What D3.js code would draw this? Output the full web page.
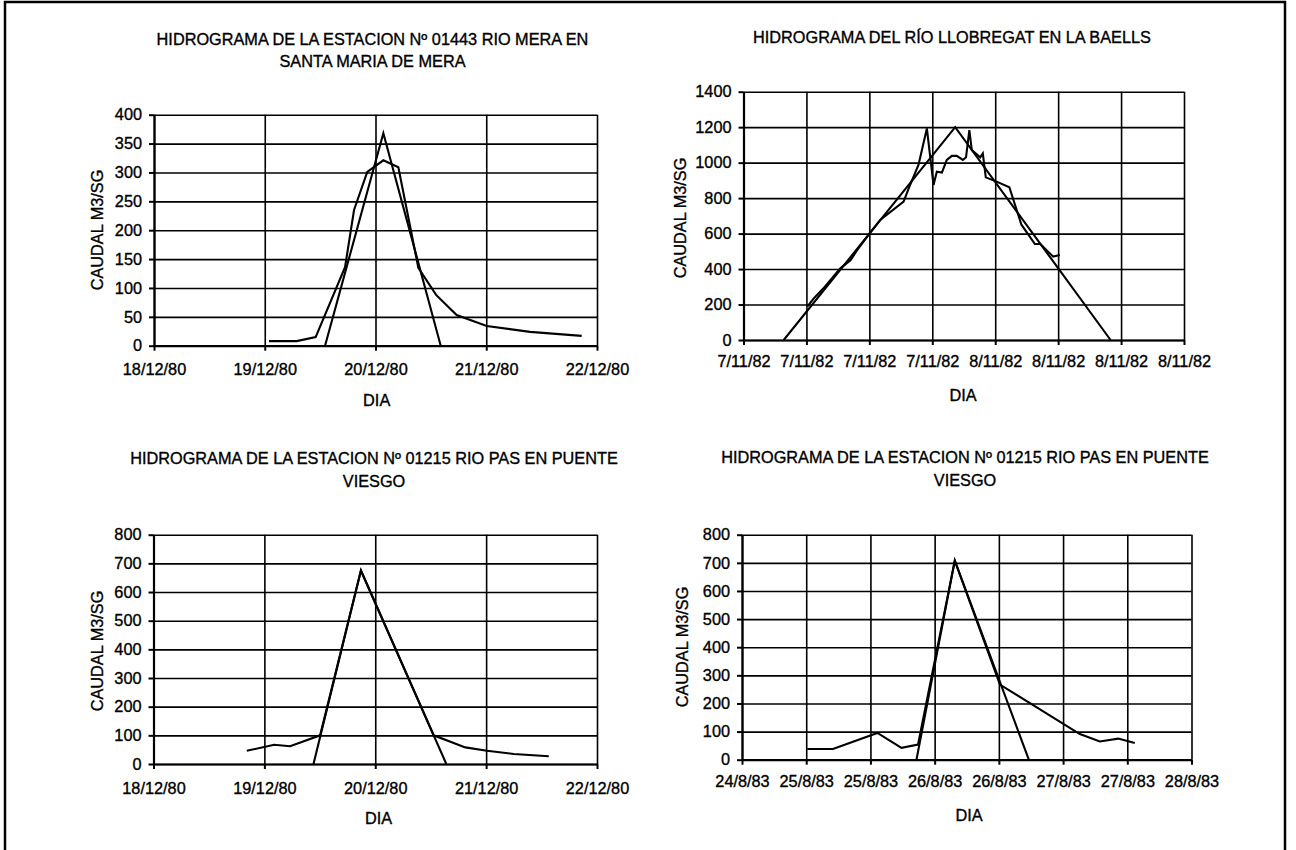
<!DOCTYPE html>
<html>
<head>
<meta charset="utf-8">
<script src="https://cdn.jsdelivr.net/npm/d3@7"></script>
<style>
  html, body { margin: 0; padding: 0; background: #fff; }
  svg { display: block; }
  text { font-family: "Liberation Sans", Arial, sans-serif; fill: #000; stroke: #000; stroke-width: 0.35px; }
</style>
</head>
<body>
<svg id="chart" width="1296" height="850"></svg>
<script>
// ---------------- DATA ----------------
// Panel 1: Río Mera en Santa María de Mera
const p1Title = ["HIDROGRAMA DE LA ESTACION Nº 01443 RIO MERA EN", "SANTA MARIA DE MERA"];
const p1XDomain = ["1980-12-18 00:00", "1980-12-22 00:00"];
const p1XTicks = ["1980-12-18 00:00", "1980-12-19 00:00", "1980-12-20 00:00", "1980-12-21 00:00", "1980-12-22 00:00"];
const p1YTicks = [0, 50, 100, 150, 200, 250, 300, 350, 400];
const p1ObsTimes = ["1980-12-19 00:55", "1980-12-19 06:55", "1980-12-19 11:02", "1980-12-19 17:24", "1980-12-19 19:21",
  "1980-12-19 22:13", "1980-12-20 01:42", "1980-12-20 04:57", "1980-12-20 09:17", "1980-12-20 13:08",
  "1980-12-20 17:35", "1980-12-21 00:06", "1980-12-21 09:29", "1980-12-21 20:41"];
const p1ObsValues = [8, 8, 15, 136, 235, 301, 321, 309, 135, 88, 53, 34, 24, 17];
const p1SynTimes = ["1980-12-19 13:04", "1980-12-20 01:42", "1980-12-20 14:08"];
const p1SynValues = [0, 368, 0];

// Panel 2: Río Llobregat en La Baells
const p2Title = ["HIDROGRAMA DEL RÍO LLOBREGAT EN LA BAELLS"];
const p2XDomain = ["1982-11-07 00:00", "1982-11-08 18:00"];
const p2XTicks = ["1982-11-07 00:00", "1982-11-07 06:00", "1982-11-07 12:00", "1982-11-07 18:00",
  "1982-11-08 00:00", "1982-11-08 06:00", "1982-11-08 12:00", "1982-11-08 18:00"];
const p2YTicks = [0, 200, 400, 600, 800, 1000, 1200, 1400];
const p2ObsTimes = ["1982-11-07 06:06", "1982-11-07 06:42", "1982-11-07 07:36", "1982-11-07 09:14", "1982-11-07 10:12",
  "1982-11-07 10:49", "1982-11-07 12:05", "1982-11-07 13:02", "1982-11-07 15:16", "1982-11-07 15:53",
  "1982-11-07 16:41", "1982-11-07 17:29", "1982-11-07 18:07", "1982-11-07 18:26", "1982-11-07 18:55",
  "1982-11-07 19:23", "1982-11-07 19:52", "1982-11-07 20:20", "1982-11-07 20:55", "1982-11-07 21:13",
  "1982-11-07 21:32", "1982-11-07 21:46", "1982-11-07 22:34", "1982-11-07 22:49", "1982-11-07 23:06",
  "1982-11-08 00:08", "1982-11-08 01:21", "1982-11-08 01:54", "1982-11-08 02:30", "1982-11-08 03:47",
  "1982-11-08 04:18", "1982-11-08 05:32", "1982-11-08 06:10"];
const p2ObsValues = [190, 235, 290, 404, 450, 505, 605, 677, 780, 874, 987, 1193, 874, 949, 944,
  1015, 1038, 1038, 1015, 1030, 1184, 1071, 1030, 1052, 917, 893, 861, 760, 650, 541, 541, 470, 479];
const p2SynTimes = ["1982-11-07 03:50", "1982-11-07 20:11", "1982-11-08 11:00"];
const p2SynValues = [0, 1200, 0];

// Panel 3: Río Pas en Puente Viesgo (diciembre 1980)
const p3Title = ["HIDROGRAMA DE LA ESTACION Nº 01215 RIO PAS EN PUENTE", "VIESGO"];
const p3XDomain = ["1980-12-18 00:00", "1980-12-22 00:00"];
const p3XTicks = ["1980-12-18 00:00", "1980-12-19 00:00", "1980-12-20 00:00", "1980-12-21 00:00", "1980-12-22 00:00"];
const p3YTicks = [0, 100, 200, 300, 400, 500, 600, 700, 800];
const p3ObsTimes = ["1980-12-18 20:11", "1980-12-19 02:07", "1980-12-19 05:34", "1980-12-19 12:04", "1980-12-19 20:54",
  "1980-12-20 12:39", "1980-12-20 19:30", "1980-12-21 00:11", "1980-12-21 05:59", "1980-12-21 13:34"];
const p3ObsValues = [46, 67, 62, 100, 675, 100, 58, 46, 35, 27];
const p3SynTimes = ["1980-12-19 10:38", "1980-12-19 20:54", "1980-12-20 15:23"];
const p3SynValues = [0, 675, 0];

// Panel 4: Río Pas en Puente Viesgo (agosto 1983)
const p4Title = ["HIDROGRAMA DE LA ESTACION Nº 01215 RIO PAS EN PUENTE", "VIESGO"];
const p4XDomain = ["1983-08-24 12:00", "1983-08-28 00:00"];
const p4XTicks = ["1983-08-24 12:00", "1983-08-25 00:00", "1983-08-25 12:00", "1983-08-26 00:00",
  "1983-08-26 12:00", "1983-08-27 00:00", "1983-08-27 12:00", "1983-08-28 00:00"];
const p4YTicks = [0, 100, 200, 300, 400, 500, 600, 700, 800];
const p4ObsTimes = ["1983-08-25 00:12", "1983-08-25 05:00", "1983-08-25 13:18", "1983-08-25 17:48", "1983-08-25 20:54",
  "1983-08-26 03:46", "1983-08-26 12:12", "1983-08-27 03:08", "1983-08-27 06:52", "1983-08-27 10:18", "1983-08-27 13:24"];
const p4ObsValues = [38, 38, 95, 42, 54, 708, 267, 91, 65, 75, 59];
const p4SynTimes = ["1983-08-25 20:36", "1983-08-26 03:46", "1983-08-26 17:36"];
const p4SynValues = [0, 708, 0];

const yAxisTitle = "CAUDAL M3/SG";
const xAxisTitle = "DIA";

// ---------------- DRAWING ----------------
const parse = d3.timeParse("%Y-%m-%d %H:%M");
const fmt = d3.timeFormat("%-d/%-m/%y");
const FS = 16.3;
const svg = d3.select("#chart");

// outer frame
svg.append("path")
  .attr("d", "M5,852 L5,2 L1285,2 L1285,852")
  .attr("fill", "none").attr("stroke", "#000").attr("stroke-width", 2.5);

function textC(g, x, y, s, anchor, size) {
  return g.append("text").attr("x", x).attr("y", y + 0.36 * (size || FS))
    .attr("text-anchor", anchor || "middle").attr("font-size", size || FS).text(s);
}

function panel(cfg, L) {
  const g = svg.append("g");
  const x = d3.scaleTime().domain(cfg.xDomain.map(parse)).range([L.x0, L.x1]);
  const y = d3.scaleLinear().domain([0, d3.max(cfg.yTicks)]).range([L.y0, L.y1]);
  const xt = cfg.xTicks.map(parse);

  // grid
  const gx = g.append("g").attr("transform", `translate(0,${L.y0})`)
    .call(d3.axisBottom(x).tickValues(xt).tickSizeInner(-(L.y0 - L.y1)).tickSizeOuter(0).tickFormat(""));
  const gy = g.append("g").attr("transform", `translate(${L.x0},0)`)
    .call(d3.axisLeft(y).tickValues(cfg.yTicks).tickSizeInner(-(L.x1 - L.x0)).tickSizeOuter(0).tickFormat(""));
  [gx, gy].forEach(a => {
    a.select(".domain").remove();
    a.selectAll("line").attr("stroke", "#000").attr("stroke-width", 1.6);
  });

  // axes
  const ax = g.append("g").attr("transform", `translate(0,${L.y0})`)
    .call(d3.axisBottom(x).tickValues(xt).tickSizeInner(5).tickSizeOuter(0).tickPadding(L.xPad).tickFormat(fmt));
  const ay = g.append("g").attr("transform", `translate(${L.x0},0)`)
    .call(d3.axisLeft(y).tickValues(cfg.yTicks).tickSizeInner(5).tickSizeOuter(0).tickPadding(7).tickFormat(d3.format("d")));
  [ax, ay].forEach(a => {
    a.select(".domain").attr("stroke", "#000").attr("stroke-width", 2.2);
    a.selectAll("line").attr("stroke", "#000").attr("stroke-width", 2);
    a.selectAll("text").attr("font-size", FS).attr("font-family", "Liberation Sans, Arial, sans-serif")
      .attr("fill", "#000").attr("stroke", "#000").attr("stroke-width", 0.35);
  });

  // series
  const line = d3.line().x(d => x(d[0])).y(d => y(d[1]));
  const syn = cfg.synT.map((t, i) => [parse(t), cfg.synV[i]]);
  const obs = cfg.obsT.map((t, i) => [parse(t), cfg.obsV[i]]);
  [syn, obs].forEach(s => {
    g.append("path").datum(s).attr("d", line)
      .attr("fill", "none").attr("stroke", "#000").attr("stroke-width", 2.1)
      .attr("stroke-linejoin", "miter");
  });

  // titles
  cfg.title.forEach((t, i) => textC(g, L.titleX, L.titleY[i], t));
  g.append("text").attr("transform", `translate(${L.yLabX + 0.36 * FS},${L.yLabY}) rotate(-90)`)
    .attr("text-anchor", "middle").attr("font-size", FS).text(yAxisTitle);
  textC(g, L.dia[0], L.dia[1], xAxisTitle);
}

panel({ title: p1Title, xDomain: p1XDomain, xTicks: p1XTicks, yTicks: p1YTicks,
        obsT: p1ObsTimes, obsV: p1ObsValues, synT: p1SynTimes, synV: p1SynValues },
      { x0: 154, x1: 597, y0: 345.7, y1: 114.7, xPad: 12.5, titleX: 372.5, titleY: [38.7, 61],
        yLabX: 97.4, yLabY: 230, dia: [376.7, 400] });

panel({ title: p2Title, xDomain: p2XDomain, xTicks: p2XTicks, yTicks: p2YTicks,
        obsT: p2ObsTimes, obsV: p2ObsValues, synT: p2SynTimes, synV: p2SynValues },
      { x0: 743.5, x1: 1184, y0: 340, y1: 91.7, xPad: 10.5, titleX: 952, titleY: [36.7],
        yLabX: 680, yLabY: 218, dia: [963, 395] });

panel({ title: p3Title, xDomain: p3XDomain, xTicks: p3XTicks, yTicks: p3YTicks,
        obsT: p3ObsTimes, obsV: p3ObsValues, synT: p3SynTimes, synV: p3SynValues },
      { x0: 153.5, x1: 597, y0: 764, y1: 534.7, xPad: 13, titleX: 374, titleY: [458.3, 481],
        yLabX: 97.4, yLabY: 651, dia: [378.5, 818.3] });

panel({ title: p4Title, xDomain: p4XDomain, xTicks: p4XTicks, yTicks: p4YTicks,
        obsT: p4ObsTimes, obsV: p4ObsValues, synT: p4SynTimes, synV: p4SynValues },
      { x0: 742, x1: 1191.5, y0: 759.7, y1: 534.7, xPad: 11, titleX: 965, titleY: [456.7, 480],
        yLabX: 682, yLabY: 647, dia: [969, 815] });
</script>
</body>
</html>
